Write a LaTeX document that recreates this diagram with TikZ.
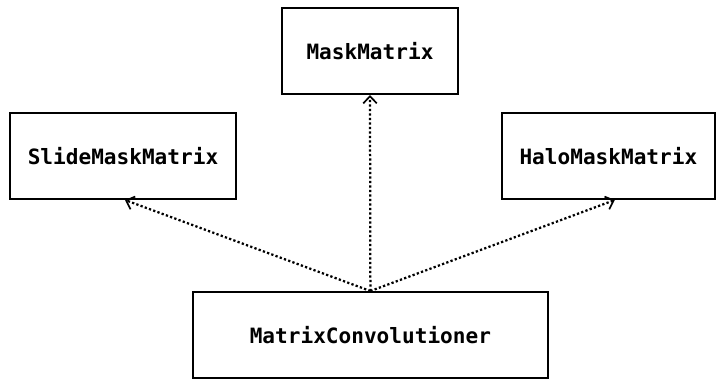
\documentclass[tikz,border=0pt]{standalone}
\usepackage{fontspec}
\setmonofont{DejaVu Sans Mono}
\usepackage{tikz}
\usetikzlibrary{positioning,arrows.meta}

\begin{document}
\begin{tikzpicture}[
  font=\ttfamily\bfseries\fontsize{15}{18}\selectfont,
  cls/.style={draw,line width=1.4pt,minimum height=2.15cm,inner sep=2pt,align=center},
  dep/.style={line width=1.6pt,dash pattern=on 1.6pt off 1.6pt,
    -{Straight Barb[length=1.8mm,width=3.4mm,line width=1.2pt]}}]
\useasboundingbox (0,0) rectangle (18,-9.575);
\node[cls,minimum width=4.4cm]   (mask)  at (9.25,-1.275)  {MaskMatrix};
\node[cls,minimum width=5.65cm]  (slide) at (3.075,-3.9)   {SlideMaskMatrix};
\node[cls,minimum width=5.325cm] (halo)  at (15.21,-3.9)   {HaloMaskMatrix};
\node[cls,minimum width=8.875cm] (conv)  at (9.26,-8.375)  {MatrixConvolutioner};
\draw[dep] (conv.north) -- (mask.south);
\draw[dep] (conv.north) -- ([xshift=0.05cm]slide.south);
\draw[dep] (conv.north) -- ([xshift=0.16cm]halo.south);
\end{tikzpicture}
\end{document}
